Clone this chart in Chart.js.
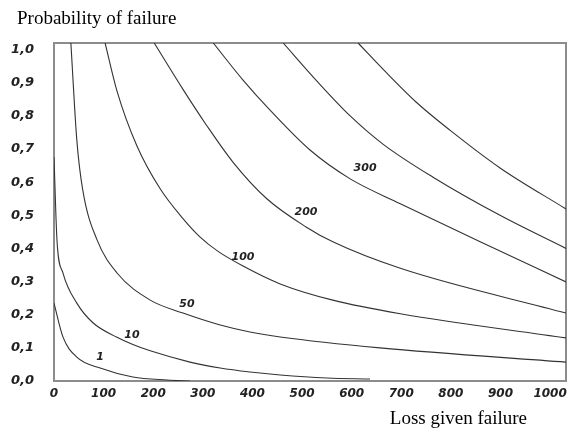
<!DOCTYPE html>
<html>
<head>
<meta charset="utf-8">
<script src="https://cdn.jsdelivr.net/npm/chart.js@4/dist/chart.umd.min.js"></script>
<style>
  body { margin: 0; background: #fff; }
  #chart { display: block; }
</style>
</head>
<body>
<canvas id="chart" width="569" height="432"></canvas>
<script>
// iso-risk curves (loss given failure -> probability)
const loss1 = [0, 18, 46, 93, 159, 228, 274];
const prob1 = [0.235, 0.133, 0.072, 0.039, 0.012, 0.003, 0];

const loss10 = [0, 6, 18, 46, 79, 127, 159, 194, 274, 335, 395, 456, 550, 637];
const prob10 = [0.676, 0.425, 0.326, 0.235, 0.175, 0.132, 0.11, 0.091, 0.057, 0.039, 0.027, 0.018, 0.009, 0.006];

const loss50 = [34, 46, 58, 87, 127, 194, 260, 335, 395, 456, 657, 1032];
const prob50 = [1.02, 0.727, 0.576, 0.425, 0.326, 0.244, 0.205, 0.169, 0.148, 0.133, 0.1, 0.057];

const loss100 = [103, 127, 167, 214, 260, 294, 330, 381, 456, 562, 698, 1032];
const prob100 = [1.02, 0.875, 0.71, 0.58, 0.49, 0.435, 0.392, 0.347, 0.293, 0.244, 0.203, 0.13];

const loss200 = [202, 260, 306, 361, 429, 508, 562, 698, 1032];
const prob200 = [1.02, 0.88, 0.775, 0.66, 0.55, 0.465, 0.42, 0.34, 0.205];

const loss300 = [321, 381, 435, 516, 597, 698, 859, 1032];
const prob300 = [1.02, 0.908, 0.818, 0.697, 0.61, 0.535, 0.42, 0.299];

const loss400 = [462, 530, 597, 663, 764, 899, 1032];
const prob400 = [1.02, 0.905, 0.8, 0.715, 0.615, 0.5, 0.4];

const loss500 = [613, 671, 732, 798, 899, 1032];
const prob500 = [1.02, 0.929, 0.839, 0.757, 0.643, 0.519];

// curve labels and where they sit (in data units)
const curveLabels = ["1", "10", "50", "100", "200", "300"];
const labelLoss = [93, 157, 268, 381, 508, 627];
const labelProb = [0.072, 0.139, 0.232, 0.374, 0.51, 0.643];

const xTicks = [0, 100, 200, 300, 400, 500, 600, 700, 800, 900, 1000];
const yTicks = [0, 0.1, 0.2, 0.3, 0.4, 0.5, 0.6, 0.7, 0.8, 0.9, 1.0];

const curves = [
  [loss1, prob1],
  [loss10, prob10],
  [loss50, prob50],
  [loss100, prob100],
  [loss200, prob200],
  [loss300, prob300],
  [loss400, prob400],
  [loss500, prob500],
];

const tickFont = { family: "'DejaVu Sans', Verdana, sans-serif", size: 12, style: "italic", weight: "bold" };

const datasets = curves.map(([xs, ys]) => ({
  data: xs.map((x, i) => ({ x: x, y: ys[i] })),
  borderColor: "#333",
  borderWidth: 1.1,
  pointRadius: 0,
  fill: false,
  cubicInterpolationMode: "monotone",
}));

// grey box round the plot
const framePlugin = {
  id: "frame",
  beforeDatasetsDraw(chart) {
    const { ctx, chartArea } = chart;
    ctx.save();
    ctx.strokeStyle = "#8c8c8c";
    ctx.lineWidth = 2;
    ctx.strokeRect(chartArea.left, chartArea.top, chartArea.right - chartArea.left, chartArea.bottom - chartArea.top);
    ctx.restore();
  },
};

// numbers on the curves + axis titles
const textPlugin = {
  id: "texts",
  afterDraw(chart) {
    const { ctx, chartArea, scales } = chart;
    ctx.save();
    ctx.fillStyle = "#222";
    ctx.font = "italic bold 11px 'DejaVu Sans', Verdana, sans-serif";
    ctx.textAlign = "center";
    ctx.textBaseline = "middle";
    curveLabels.forEach((txt, i) => {
      ctx.fillText(txt, scales.x.getPixelForValue(labelLoss[i]), scales.y.getPixelForValue(labelProb[i]));
    });

    ctx.fillStyle = "#000";
    ctx.font = "19px 'Liberation Serif', 'Times New Roman', serif";
    ctx.textBaseline = "alphabetic";
    ctx.textAlign = "left";
    ctx.fillText("Probability of failure", 17, chartArea.top - 19);
    ctx.textAlign = "right";
    ctx.fillText("Loss given failure", chartArea.right - 39, chartArea.bottom + 43);
    ctx.restore();
  },
};

new Chart(document.getElementById("chart"), {
  type: "line",
  data: { datasets: datasets },
  options: {
    responsive: false,
    animation: false,
    devicePixelRatio: 1,
    layout: { padding: { top: 43, right: 3, left: 0, bottom: 0 } },
    plugins: {
      legend: { display: false },
      tooltip: { enabled: false },
    },
    scales: {
      x: {
        type: "linear",
        min: 0,
        max: 1032,
        afterBuildTicks: (s) => { s.ticks = xTicks.map((v) => ({ value: v })); },
        afterFit: (s) => {
          s.height = 51;
          s.paddingLeft = 0;
          s.paddingRight = 0;
        },
        grid: { display: false, drawTicks: false },
        border: { display: false },
        ticks: {
          font: tickFont,
          color: "#222",
          padding: 6,
          maxRotation: 0,
          autoSkip: false,
          callback: (v) => String(v),
        },
      },
      y: {
        type: "linear",
        min: 0,
        max: 1.02,
        afterBuildTicks: (s) => { s.ticks = yTicks.map((v) => ({ value: v })); },
        afterFit: (s) => { s.width = 54; },
        grid: { display: false, drawTicks: false },
        border: { display: false },
        ticks: {
          font: { ...tickFont, size: 13 },
          color: "#222",
          padding: 20,
          callback: (v) => v.toFixed(1).replace(".", ","),
        },
      },
    },
  },
  plugins: [framePlugin, textPlugin],
});
</script>
</body>
</html>
